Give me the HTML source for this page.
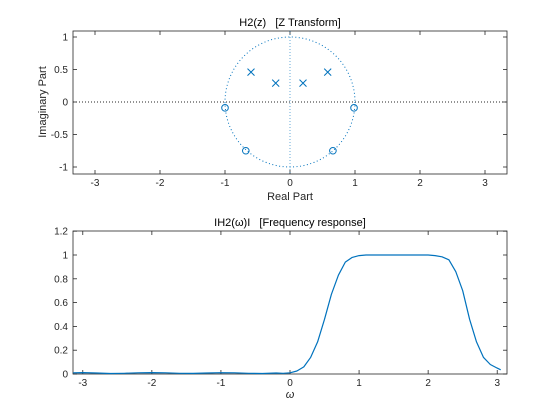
<!DOCTYPE html>
<html><head><meta charset="utf-8"><style>
body{margin:0;background:#fff}
svg{display:block;font-family:"Liberation Sans",Arial,sans-serif;font-size:10px}
text{white-space:pre}
</style></head><body>
<svg id="fig" width="560" height="420">
<rect width="560" height="420" fill="#fff"/>
<g id="topPlot"></g>
<g id="botPlot"></g>
</svg>
<script>
// Z-plane data
const zerosRe=[-1.0,0.985,-0.68,0.66];
const zerosIm=[-0.09,-0.09,-0.75,-0.75];
const polesRe=[-0.6,-0.22,0.2,0.58];
const polesIm=[0.46,0.29,0.29,0.46];
const topXTicks=[-3,-2,-1,0,1,2,3];
const topYTicks=[-1,-0.5,0,0.5,1];
// Frequency response data
const freqW=[-3.14,-3.0,-2.8,-2.6,-2.4,-2.2,-2.0,-1.8,-1.6,-1.4,-1.2,-1.0,-0.8,-0.6,-0.4,-0.2,-0.1,0,0.1,0.2,0.3,0.4,0.5,0.6,0.7,0.8,0.9,1.0,1.1,1.2,1.4,1.6,1.8,2.0,2.1,2.2,2.3,2.4,2.5,2.6,2.7,2.8,2.9,3.0,3.05];
const freqMag=[0.01,0.012,0.008,0.004,0.006,0.01,0.012,0.01,0.006,0.005,0.008,0.011,0.01,0.006,0.004,0.008,0.006,0.01,0.025,0.06,0.14,0.27,0.46,0.67,0.83,0.94,0.98,0.995,1.0,1.0,1.0,1.0,1.0,1.0,0.995,0.985,0.96,0.86,0.7,0.46,0.27,0.14,0.08,0.05,0.035];
const botXTicks=[-3,-2,-1,0,1,2,3];
const botYTicks=[0,0.2,0.4,0.6,0.8,1,1.2];

const NS="http://www.w3.org/2000/svg";
function mk(p,t,a){const e=document.createElementNS(NS,t);for(const k in a)e.setAttribute(k,a[k]);p.appendChild(e);return e;}
const C="#0072bd";

function axes(g,L,R,T,B,xs,ys,xt,yt,xfmt,yfmt){
  mk(g,'rect',{x:L,y:T,width:R-L,height:B-T,fill:'#fff',stroke:'#262626','stroke-width':0.8});
  xt.forEach(v=>{const x=xs(v);
    const tk=mk(g,'line',{x1:x,x2:x,y1:B,y2:B-4,stroke:'#262626','stroke-width':0.8});
    
    
    mk(g,'line',{x1:x,x2:x,y1:T,y2:T+4,stroke:'#262626','stroke-width':0.8});
    const l=mk(g,'text',{x:x,y:B+12,'text-anchor':'middle',fill:'#262626'});l.textContent=xfmt(v);
    
    });
  yt.forEach(v=>{const y=ys(v);
    mk(g,'line',{x1:L,x2:L+4,y1:y,y2:y,stroke:'#262626','stroke-width':0.8});
    mk(g,'line',{x1:R,x2:R-4,y1:y,y2:y,stroke:'#262626','stroke-width':0.8});
    const l=mk(g,'text',{x:L-5,y:y+3.5,'text-anchor':'end',fill:'#262626'});l.textContent=yfmt(v);
    
    });
}

// Top plot
const topG=document.getElementById('topPlot');
const tx=v=>290+65*v, ty=v=>102-65*v;
axes(topG,73,507,31,174,tx,ty,topXTicks,topYTicks,v=>String(v),v=>String(v));
mk(topG,'line',{x1:73,x2:507,y1:ty(0),y2:ty(0),stroke:'#262626','stroke-width':1,'stroke-dasharray':'1,2'});
mk(topG,'line',{x1:tx(0),x2:tx(0),y1:31,y2:174,stroke:C,'stroke-width':1,'stroke-dasharray':'1,2','stroke-opacity':0.6});
mk(topG,'circle',{cx:tx(0),cy:ty(0),r:65,fill:'none',stroke:C,'stroke-width':1,'stroke-dasharray':'1,2.5'});
zerosRe.forEach((r,i)=>{const c=mk(topG,'circle',{cx:tx(r),cy:ty(zerosIm[i]),r:3.3,fill:'none',stroke:C,'stroke-width':1});
  
  });
polesRe.forEach((r,i)=>{const x=tx(r),y=ty(polesIm[i]);
  const p=mk(topG,'path',{d:`M${x-3.5},${y-3.5}L${x+3.5},${y+3.5}M${x-3.5},${y+3.5}L${x+3.5},${y-3.5}`,stroke:C,'stroke-width':1});
  
  });
let t=mk(topG,'text',{x:290,y:26,'text-anchor':'middle',fill:'#000','font-size':11});t.textContent='H2(z)   [Z Transform]';


t=mk(topG,'text',{x:290,y:200,'text-anchor':'middle',fill:'#262626','font-size':11});t.textContent='Real Part';


t=mk(topG,'text',{x:46,y:102,'text-anchor':'middle',fill:'#262626','font-size':11,transform:'rotate(-90 46 102)'});t.textContent='Imaginary Part';



// Bottom plot
const botG=document.getElementById('botPlot');
const bx=v=>290+(v/Math.PI)*217, by=v=>374-119*v;
axes(botG,73,507,231,374,bx,by,botXTicks,botYTicks,v=>String(v),v=>String(Math.round(v*10)/10));
const d=freqW.map((w,i)=>(i?'L':'M')+bx(w).toFixed(1)+','+by(freqMag[i]).toFixed(1)).join('');
const ln=mk(botG,'path',{d:d,fill:'none',stroke:C,'stroke-width':1.2,'stroke-linejoin':'round'});


t=mk(botG,'text',{x:290,y:226,'text-anchor':'middle',fill:'#000','font-size':11});t.textContent='IH2(ω)I   [Frequency response]';


t=mk(botG,'text',{x:290,y:398,'text-anchor':'middle',fill:'#262626','font-size':11,'font-style':'italic'});t.textContent='ω';


</script>
</body></html>
